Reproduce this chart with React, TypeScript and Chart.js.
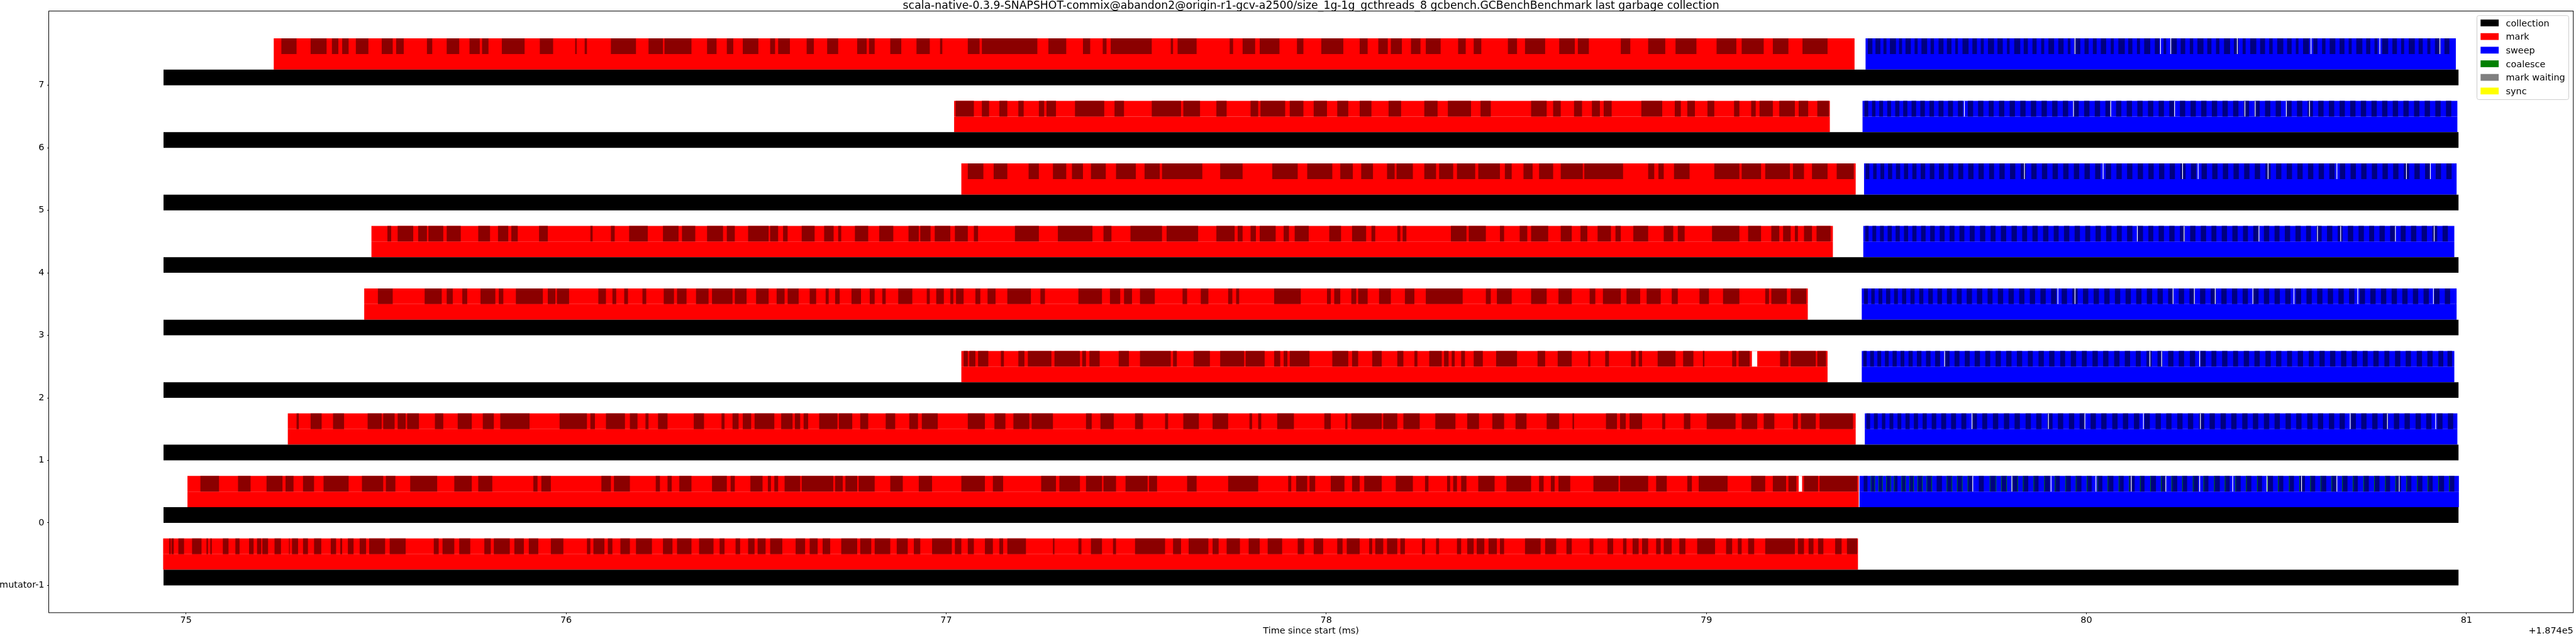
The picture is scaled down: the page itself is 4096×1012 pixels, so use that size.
import { useEffect, useRef } from "react";
import { Chart, registerables } from "chart.js";

Chart.register(...registerables);

const W = 4096;
const H = 1012;
const FONT = "'DejaVu Sans', 'Liberation Sans', sans-serif";

// ---------- text ----------
const TITLE =
  "scala-native-0.3.9-SNAPSHOT-commix@abandon2@origin-r1-gcv-a2500/size_1g-1g_gcthreads_8 gcbench.GCBenchBenchmark last garbage collection";
const X_LABEL = "Time since start (ms)";
const X_OFFSET_LABEL = "+1.874e5";
const X_TICKS = [75, 76, 77, 78, 79, 80, 81];
const Y_TICKS = [-1, 0, 1, 2, 3, 4, 5, 6, 7];
const Y_TICK_LABELS = ["mutator-1", "0", "1", "2", "3", "4", "5", "6", "7"];
const X_MIN = 74.639;
const X_MAX = 81.281;
const Y_MIN = -1.4375;
const Y_MAX = 8.1875;

// ---------- rows (thread index, bottom to top) ----------
const ROWS = [-1, 0, 1, 2, 3, 4, 5, 6, 7];

// collection phase per row [start, end] (ms, offset 1.874e5)
const COLLECTION_SPANS = [
  [74.941, 80.979], [74.941, 80.979], [74.941, 80.979], [74.941, 80.979], [74.941, 80.979],
  [74.941, 80.979], [74.941, 80.979], [74.941, 80.979], [74.941, 80.979],
];
// mark phase per row
const MARK_SPANS = [
  [74.94, 79.399], [75.004, 79.401], [75.268, 79.393], [77.04, 79.319], [75.469, 79.267],
  [75.488, 79.333], [77.04, 79.393], [77.021, 79.325], [75.231, 79.39],
];
// sweep phase per row (mutator has none)
const SWEEP_SPANS = [
  null, [79.403, 80.98], [79.417, 80.976], [79.409, 80.968], [79.409, 80.974],
  [79.413, 80.968], [79.415, 80.974], [79.411, 80.976], [79.419, 80.972],
];

// alternating mark batches (dark red) per row
const MARK_BATCHES_M1 = [[74.956,74.96],[74.962,74.968],[74.98,74.995],[75.016,75.041],[75.054,75.058],[75.064,75.068],[75.097,75.112],[75.13,75.141],[75.166,75.178],[75.187,75.198],[75.201,75.216],[75.233,75.25],[75.271,75.273],[75.279,75.295],[75.308,75.321],[75.337,75.356],[75.381,75.395],[75.406,75.411],[75.426,75.441],[75.457,75.474],[75.482,75.524],[75.536,75.578],[75.652,75.665],[75.675,75.706],[75.719,75.748],[75.785,75.802],[75.81,75.852],[75.864,75.889],[75.902,75.927],[75.96,75.993],[76.055,76.064],[76.072,76.101],[76.11,76.122],[76.143,76.168],[76.184,76.226],[76.255,76.28],[76.292,76.33],[76.35,76.388],[76.404,76.417],[76.446,76.458],[76.479,76.496],[76.504,76.525],[76.537,76.569],[76.604,76.629],[76.641,76.662],[76.675,76.695],[76.724,76.766],[76.774,76.803],[76.812,76.853],[76.87,76.899],[76.915,76.932],[76.963,77.015],[77.023,77.04],[77.057,77.073],[77.102,77.123],[77.14,77.15],[77.161,77.21],[77.281,77.285],[77.348,77.356],[77.381,77.41],[77.439,77.447],[77.497,77.576],[77.597,77.618],[77.638,77.69],[77.701,77.717],[77.738,77.773],[77.796,77.825],[77.846,77.884],[77.925,77.942],[77.967,77.992],[78.029,78.043],[78.054,78.088],[78.113,78.121],[78.129,78.15],[78.16,78.187],[78.195,78.207],[78.252,78.26],[78.289,78.297],[78.344,78.355],[78.371,78.388],[78.396,78.416],[78.427,78.449],[78.457,78.468],[78.523,78.564],[78.576,78.605],[78.632,78.646],[78.693,78.703],[78.74,78.755],[78.781,78.79],[78.806,78.822],[78.831,78.847],[78.868,78.88],[78.888,78.909],[78.929,78.945],[78.976,79.023],[79.052,79.068],[79.083,79.093],[79.11,79.126],[79.155,79.233],[79.241,79.257],[79.269,79.282],[79.294,79.308],[79.339,79.356],[79.37,79.397]];
const MARK_BATCHES_0 = [[75.038,75.087],[75.137,75.17],[75.212,75.254],[75.262,75.283],[75.308,75.337],[75.362,75.428],[75.463,75.519],[75.526,75.551],[75.59,75.661],[75.706,75.752],[75.769,75.806],[75.914,75.925],[75.935,75.96],[76.093,76.118],[76.126,76.168],[76.236,76.247],[76.267,76.278],[76.298,76.33],[76.384,76.423],[76.433,76.444],[76.485,76.517],[76.531,76.539],[76.548,76.558],[76.575,76.616],[76.62,76.703],[76.708,76.728],[76.735,76.766],[76.77,76.812],[76.853,76.886],[76.928,76.963],[77.04,77.102],[77.123,77.15],[77.25,77.289],[77.298,77.352],[77.368,77.41],[77.414,77.447],[77.472,77.53],[77.534,77.555],[77.634,77.659],[77.742,77.821],[77.9,77.908],[77.921,77.95],[77.956,77.971],[78.012,78.048],[78.068,78.088],[78.1,78.146],[78.183,78.228],[78.26,78.269],[78.318,78.326],[78.334,78.344],[78.355,78.369],[78.4,78.443],[78.474,78.539],[78.56,78.572],[78.591,78.601],[78.611,78.642],[78.703,78.769],[78.773,78.847],[78.868,78.896],[78.95,78.962],[78.98,79.056],[79.118,79.155],[79.175,79.21],[79.216,79.237],[79.257,79.294],[79.298,79.397]];
const MARK_BATCHES_1 = [[75.291,75.297],[75.328,75.357],[75.387,75.416],[75.478,75.515],[75.519,75.549],[75.557,75.578],[75.582,75.613],[75.655,75.677],[75.715,75.752],[75.781,75.81],[75.827,75.904],[75.983,76.055],[76.064,76.076],[76.105,76.155],[76.168,76.188],[76.209,76.217],[76.242,76.267],[76.336,76.363],[76.409,76.417],[76.438,76.454],[76.465,76.487],[76.496,76.548],[76.566,76.596],[76.602,76.616],[76.625,76.637],[76.666,76.714],[76.718,76.753],[76.774,76.795],[76.841,76.866],[76.903,76.926],[76.936,76.978],[77.057,77.102],[77.127,77.156],[77.177,77.219],[77.225,77.281],[77.368,77.383],[77.406,77.441],[77.497,77.518],[77.576,77.584],[77.624,77.665],[77.701,77.742],[77.798,77.805],[77.821,77.829],[77.871,77.915],[77.995,78.012],[78.05,78.056],[78.066,78.146],[78.15,78.187],[78.203,78.246],[78.287,78.34],[78.371,78.402],[78.437,78.468],[78.498,78.527],[78.58,78.613],[78.648,78.652],[78.736,78.765],[78.773,78.788],[78.798,78.831],[78.884,78.892],[78.941,78.958],[79.001,79.077],[79.093,79.134],[79.151,79.179],[79.228,79.241],[79.249,79.288],[79.298,79.386]];
const MARK_BATCHES_2 = [[77.046,77.057],[77.061,77.077],[77.084,77.111],[77.144,77.152],[77.19,77.206],[77.215,77.277],[77.285,77.352],[77.358,77.368],[77.377,77.404],[77.454,77.481],[77.51,77.591],[77.597,77.607],[77.651,77.694],[77.721,77.784],[77.788,77.838],[77.863,77.879],[77.888,77.898],[77.904,77.956],[78.016,78.058],[78.068,78.084],[78.121,78.146],[78.187,78.203],[78.232,78.24],[78.271,78.304],[78.31,78.322],[78.33,78.338],[78.355,78.365],[78.388,78.412],[78.447,78.502],[78.556,78.576],[78.609,78.646],[78.689,78.695],[78.734,78.744],[78.802,78.814],[78.822,78.831],[78.872,78.919],[78.939,78.966],[78.991,78.995],[79.068,79.079],[79.085,79.114],[79.194,79.216],[79.222,79.288],[79.292,79.315]];
const MARK_BATCHES_3 = [[75.505,75.544],[75.628,75.673],[75.686,75.702],[75.727,75.74],[75.775,75.814],[75.823,75.835],[75.868,75.939],[75.952,75.972],[75.976,76.008],[76.085,76.105],[76.122,76.132],[76.153,76.163],[76.201,76.211],[76.257,76.284],[76.292,76.317],[76.342,76.375],[76.384,76.438],[76.444,76.475],[76.5,76.533],[76.554,76.575],[76.583,76.612],[76.641,76.658],[76.683,76.691],[76.708,76.72],[76.751,76.776],[76.799,76.812],[76.832,76.841],[76.874,76.911],[76.949,76.957],[76.974,76.994],[77.011,77.019],[77.026,77.046],[77.077,77.09],[77.109,77.13],[77.161,77.223],[77.248,77.26],[77.348,77.41],[77.431,77.458],[77.468,77.489],[77.51,77.549],[77.622,77.634],[77.67,77.69],[77.742,77.753],[77.763,77.771],[77.863,77.933],[78.002,78.012],[78.021,78.037],[78.066,78.079],[78.084,78.109],[78.139,78.17],[78.207,78.232],[78.262,78.359],[78.42,78.433],[78.449,78.488],[78.539,78.58],[78.611,78.646],[78.693,78.708],[78.728,78.775],[78.79,78.826],[78.843,78.88],[78.909,78.925],[78.982,79.007],[79.044,79.087],[79.155,79.165],[79.171,79.212],[79.222,79.263]];
const MARK_BATCHES_4 = [[75.53,75.54],[75.557,75.598],[75.611,75.634],[75.638,75.677],[75.686,75.723],[75.769,75.8],[75.821,75.848],[75.856,75.873],[75.929,75.952],[76.064,76.07],[76.118,76.128],[76.166,76.215],[76.255,76.296],[76.305,76.34],[76.371,76.413],[76.423,76.444],[76.479,76.533],[76.537,76.558],[76.571,76.583],[76.62,76.654],[76.679,76.704],[76.716,76.724],[76.76,76.795],[76.824,76.861],[76.901,76.928],[76.932,76.959],[76.97,77.011],[77.023,77.057],[77.073,77.084],[77.181,77.244],[77.294,77.385],[77.414,77.435],[77.485,77.568],[77.58,77.663],[77.711,77.759],[77.767,77.78],[77.801,77.815],[77.825,77.867],[77.888,77.902],[77.917,77.954],[78.008,78.039],[78.068,78.105],[78.119,78.129],[78.187,78.195],[78.201,78.211],[78.328,78.369],[78.375,78.42],[78.457,78.468],[78.509,78.529],[78.539,78.584],[78.617,78.646],[78.669,78.687],[78.714,78.749],[78.761,78.775],[78.808,78.847],[78.888,78.913],[78.925,78.943],[79.015,79.087],[79.11,79.144],[79.171,79.192],[79.202,79.222],[79.233,79.241],[79.257,79.278],[79.29,79.327]];
const MARK_BATCHES_5 = [[77.057,77.098],[77.125,77.161],[77.217,77.244],[77.281,77.316],[77.331,77.36],[77.381,77.42],[77.447,77.499],[77.522,77.562],[77.568,77.674],[77.721,77.78],[77.858,77.925],[77.95,78.016],[78.037,78.07],[78.092,78.123],[78.16,78.18],[78.185,78.228],[78.258,78.289],[78.297,78.334],[78.344,78.392],[78.4,78.457],[78.47,78.488],[78.519,78.543],[78.56,78.597],[78.617,78.675],[78.679,78.781],[78.847,78.863],[78.874,78.888],[78.915,78.956],[79.021,79.087],[79.093,79.144],[79.155,79.22],[79.228,79.257],[79.278,79.319],[79.343,79.388]];
const MARK_BATCHES_6 = [[77.025,77.073],[77.094,77.113],[77.14,77.161],[77.19,77.204],[77.244,77.258],[77.264,77.289],[77.339,77.416],[77.443,77.468],[77.541,77.618],[77.624,77.668],[77.711,77.738],[77.801,77.821],[77.827,77.892],[77.904,77.94],[77.967,78.002],[78.029,78.058],[78.088,78.119],[78.164,78.197],[78.258,78.293],[78.32,78.381],[78.406,78.433],[78.539,78.58],[78.597,78.617],[78.652,78.673],[78.699,78.72],[78.73,78.751],[78.829,78.884],[78.917,78.933],[78.95,78.97],[79.003,79.021],[79.073,79.087],[79.118,79.13],[79.14,79.175],[79.192,79.233],[79.243,79.268],[79.292,79.323]];
const MARK_BATCHES_7 = [[75.251,75.291],[75.328,75.37],[75.384,75.401],[75.411,75.428],[75.447,75.48],[75.515,75.544],[75.553,75.573],[75.634,75.648],[75.686,75.719],[75.746,75.773],[75.779,75.796],[75.831,75.891],[75.931,75.966],[76.024,76.028],[76.049,76.055],[76.118,76.184],[76.217,76.255],[76.259,76.33],[76.371,76.396],[76.423,76.44],[76.465,76.506],[76.537,76.55],[76.558,76.589],[76.633,76.652],[76.687,76.716],[76.766,76.791],[76.797,76.812],[76.853,76.882],[76.922,76.957],[76.984,76.99],[77.057,77.088],[77.094,77.24],[77.269,77.316],[77.36,77.379],[77.412,77.422],[77.433,77.541],[77.591,77.597],[77.609,77.659],[77.746,77.755],[77.78,77.813],[77.825,77.877],[77.923,77.94],[77.987,78.045],[78.088,78.109],[78.137,78.162],[78.17,78.199],[78.223,78.248],[78.262,78.301],[78.347,78.367],[78.388,78.408],[78.478,78.502],[78.523,78.576],[78.613,78.654],[78.662,78.691],[78.775,78.8],[78.847,78.892],[78.919,78.974],[79.027,79.079],[79.093,79.151],[79.175,79.216],[79.253,79.319]];
const MARK_BATCHES = [
  MARK_BATCHES_M1, MARK_BATCHES_0, MARK_BATCHES_1, MARK_BATCHES_2, MARK_BATCHES_3,
  MARK_BATCHES_4, MARK_BATCHES_5, MARK_BATCHES_6, MARK_BATCHES_7,
];

// alternating sweep batches (navy) per row
const SWEEP_BATCHES_0 = [[79.414,79.424],[79.434,79.443],[79.454,79.463],[79.474,79.484],[79.494,79.503],[79.514,79.524],[79.535,79.545],[79.557,79.568],[79.581,79.593],[79.606,79.62],[79.633,79.646],[79.66,79.673],[79.688,79.701],[79.717,79.73],[79.747,79.761],[79.777,79.79],[79.804,79.819],[79.833,79.847],[79.861,79.874],[79.889,79.904],[79.917,79.93],[79.945,79.959],[79.972,79.987],[80.001,80.014],[80.029,80.042],[80.056,80.071],[80.085,80.098],[80.112,80.127],[80.141,80.153],[80.168,80.183],[80.196,80.209],[80.224,80.239],[80.252,80.265],[80.28,80.294],[80.308,80.321],[80.336,80.351],[80.364,80.377],[80.392,80.406],[80.42,80.434],[80.449,80.462],[80.476,80.491],[80.504,80.518],[80.533,80.546],[80.56,80.575],[80.589,80.602],[80.616,80.631],[80.645,80.658],[80.673,80.687],[80.701,80.714],[80.729,80.743],[80.757,80.771],[80.786,80.799],[80.813,80.828],[80.842,80.855],[80.87,80.884],[80.898,80.911],[80.926,80.941],[80.954,80.968]];
const SWEEP_BATCHES_1 = [[79.421,79.431],[79.441,79.451],[79.462,79.471],[79.482,79.492],[79.503,79.513],[79.524,79.535],[79.546,79.557],[79.569,79.58],[79.593,79.605],[79.618,79.631],[79.644,79.657],[79.671,79.684],[79.698,79.712],[79.726,79.739],[79.754,79.768],[79.783,79.797],[79.811,79.825],[79.84,79.854],[79.868,79.882],[79.897,79.911],[79.925,79.939],[79.954,79.968],[79.982,79.996],[80.011,80.025],[80.039,80.053],[80.068,80.082],[80.096,80.11],[80.125,80.139],[80.153,80.167],[80.182,80.196],[80.21,80.224],[80.239,80.253],[80.267,80.281],[80.296,80.31],[80.324,80.338],[80.353,80.367],[80.381,80.395],[80.41,80.424],[80.438,80.452],[80.467,80.481],[80.495,80.509],[80.524,80.538],[80.552,80.566],[80.581,80.595],[80.609,80.623],[80.638,80.652],[80.666,80.68],[80.695,80.709],[80.723,80.737],[80.752,80.766],[80.78,80.794],[80.809,80.823],[80.837,80.851],[80.866,80.88],[80.894,80.908],[80.923,80.937],[80.951,80.965]];
const SWEEP_BATCHES_2 = [[79.413,79.422],[79.431,79.441],[79.45,79.46],[79.47,79.48],[79.49,79.501],[79.511,79.521],[79.532,79.543],[79.554,79.566],[79.578,79.59],[79.602,79.615],[79.627,79.64],[79.653,79.666],[79.68,79.693],[79.706,79.72],[79.734,79.747],[79.761,79.775],[79.789,79.803],[79.817,79.831],[79.846,79.859],[79.874,79.888],[79.902,79.916],[79.931,79.944],[79.959,79.973],[79.988,80.001],[80.016,80.03],[80.044,80.058],[80.073,80.087],[80.101,80.115],[80.13,80.143],[80.158,80.172],[80.187,80.2],[80.215,80.229],[80.243,80.257],[80.272,80.286],[80.3,80.314],[80.329,80.342],[80.357,80.371],[80.386,80.399],[80.414,80.428],[80.442,80.456],[80.471,80.485],[80.499,80.513],[80.528,80.541],[80.556,80.57],[80.585,80.598],[80.613,80.627],[80.641,80.655],[80.67,80.684],[80.698,80.712],[80.727,80.74],[80.755,80.769],[80.784,80.797],[80.812,80.826],[80.84,80.854],[80.869,80.883],[80.897,80.911],[80.926,80.939],[80.95,80.962]];
const SWEEP_BATCHES_3 = [[79.415,79.425],[79.434,79.443],[79.453,79.463],[79.473,79.484],[79.494,79.504],[79.515,79.526],[79.537,79.548],[79.56,79.571],[79.584,79.596],[79.608,79.62],[79.633,79.646],[79.659,79.672],[79.685,79.699],[79.712,79.726],[79.74,79.753],[79.767,79.781],[79.795,79.809],[79.823,79.837],[79.851,79.865],[79.879,79.893],[79.907,79.921],[79.935,79.949],[79.963,79.977],[79.991,80.005],[80.019,80.033],[80.047,80.061],[80.075,80.089],[80.103,80.117],[80.131,80.145],[80.159,80.173],[80.187,80.201],[80.215,80.229],[80.243,80.257],[80.271,80.285],[80.299,80.313],[80.327,80.341],[80.355,80.369],[80.383,80.397],[80.411,80.425],[80.439,80.453],[80.467,80.481],[80.495,80.509],[80.523,80.537],[80.551,80.565],[80.579,80.593],[80.607,80.621],[80.635,80.649],[80.663,80.677],[80.691,80.705],[80.719,80.733],[80.747,80.761],[80.775,80.789],[80.803,80.817],[80.831,80.845],[80.859,80.873],[80.887,80.901],[80.915,80.929],[80.943,80.957]];
const SWEEP_BATCHES_4 = [[79.418,79.427],[79.437,79.447],[79.457,79.467],[79.477,79.488],[79.498,79.509],[79.52,79.531],[79.542,79.553],[79.565,79.577],[79.589,79.601],[79.614,79.627],[79.64,79.653],[79.666,79.679],[79.693,79.706],[79.72,79.734],[79.748,79.761],[79.775,79.789],[79.803,79.817],[79.831,79.844],[79.858,79.872],[79.886,79.9],[79.914,79.927],[79.941,79.955],[79.969,79.983],[79.997,80.01],[80.024,80.038],[80.052,80.066],[80.08,80.093],[80.107,80.121],[80.135,80.149],[80.163,80.176],[80.19,80.204],[80.218,80.232],[80.246,80.259],[80.273,80.287],[80.301,80.315],[80.329,80.342],[80.356,80.37],[80.384,80.398],[80.412,80.425],[80.439,80.453],[80.467,80.481],[80.495,80.508],[80.522,80.536],[80.55,80.564],[80.578,80.591],[80.605,80.619],[80.633,80.647],[80.661,80.674],[80.688,80.702],[80.716,80.73],[80.744,80.757],[80.771,80.785],[80.799,80.813],[80.827,80.84],[80.854,80.868],[80.882,80.896],[80.91,80.923],[80.937,80.951]];
const SWEEP_BATCHES_5 = [[79.419,79.429],[79.439,79.448],[79.458,79.468],[79.478,79.489],[79.499,79.51],[79.52,79.531],[79.542,79.553],[79.564,79.576],[79.588,79.6],[79.612,79.625],[79.637,79.65],[79.663,79.676],[79.689,79.703],[79.716,79.73],[79.744,79.757],[79.771,79.785],[79.799,79.813],[79.827,79.841],[79.855,79.869],[79.883,79.897],[79.911,79.925],[79.939,79.953],[79.967,79.981],[79.995,80.009],[80.023,80.037],[80.051,80.065],[80.079,80.093],[80.107,80.121],[80.135,80.149],[80.163,80.177],[80.191,80.205],[80.219,80.233],[80.247,80.261],[80.275,80.289],[80.303,80.317],[80.331,80.345],[80.359,80.373],[80.387,80.401],[80.415,80.429],[80.443,80.457],[80.471,80.485],[80.499,80.513],[80.527,80.541],[80.555,80.569],[80.583,80.597],[80.611,80.625],[80.639,80.653],[80.667,80.681],[80.695,80.709],[80.723,80.737],[80.751,80.765],[80.779,80.793],[80.807,80.821],[80.835,80.849],[80.863,80.877],[80.891,80.905],[80.919,80.933],[80.947,80.961]];
const SWEEP_BATCHES_6 = [[79.416,79.426],[79.436,79.445],[79.455,79.465],[79.476,79.486],[79.497,79.508],[79.518,79.529],[79.54,79.552],[79.563,79.575],[79.587,79.599],[79.611,79.624],[79.636,79.649],[79.662,79.675],[79.688,79.702],[79.715,79.729],[79.743,79.756],[79.77,79.784],[79.798,79.812],[79.826,79.84],[79.854,79.868],[79.882,79.896],[79.91,79.924],[79.938,79.952],[79.966,79.98],[79.994,80.008],[80.022,80.036],[80.05,80.064],[80.078,80.092],[80.106,80.12],[80.134,80.148],[80.162,80.176],[80.19,80.204],[80.218,80.232],[80.246,80.26],[80.274,80.288],[80.302,80.316],[80.33,80.344],[80.358,80.372],[80.386,80.4],[80.414,80.428],[80.442,80.456],[80.47,80.484],[80.498,80.512],[80.526,80.54],[80.554,80.568],[80.582,80.596],[80.61,80.624],[80.638,80.652],[80.666,80.68],[80.694,80.708],[80.722,80.736],[80.75,80.764],[80.778,80.792],[80.806,80.82],[80.834,80.848],[80.862,80.876],[80.89,80.904],[80.918,80.932],[80.946,80.96]];
const SWEEP_BATCHES_7 = [[79.425,79.437],[79.445,79.458],[79.466,79.474],[79.483,79.499],[79.507,79.515],[79.524,79.538],[79.548,79.556],[79.566,79.581],[79.59,79.599],[79.611,79.624],[79.633,79.645],[79.655,79.662],[79.674,79.69],[79.7,79.712],[79.722,79.73],[79.741,79.757],[79.766,79.78],[79.791,79.798],[79.81,79.826],[79.835,79.846],[79.858,79.869],[79.881,79.889],[79.9,79.915],[79.926,79.94],[79.951,79.958],[79.968,79.984],[79.995,80.006],[80.017,80.027],[80.038,80.052],[80.064,80.072],[80.084,80.101],[80.11,80.121],[80.133,80.141],[80.152,80.168],[80.18,80.192],[80.203,80.21],[80.221,80.238],[80.248,80.26],[80.272,80.281],[80.292,80.308],[80.318,80.329],[80.341,80.35],[80.362,80.378],[80.388,80.4],[80.411,80.419],[80.431,80.447],[80.457,80.47],[80.481,80.49],[80.502,80.518],[80.528,80.54],[80.551,80.558],[80.57,80.586],[80.597,80.608],[80.62,80.629],[80.64,80.655],[80.666,80.679],[80.69,80.698],[80.71,80.726],[80.736,80.747],[80.758,80.766],[80.778,80.794],[80.805,80.817],[80.828,80.836],[80.848,80.864],[80.874,80.885],[80.897,80.905],[80.917,80.932],[80.942,80.955]];
const SWEEP_BATCHES = [
  [], SWEEP_BATCHES_0, SWEEP_BATCHES_1, SWEEP_BATCHES_2, SWEEP_BATCHES_3,
  SWEEP_BATCHES_4, SWEEP_BATCHES_5, SWEEP_BATCHES_6, SWEEP_BATCHES_7,
];

// idle gaps between batches (unfilled) in the batch lane, per row
const BATCH_GAPS = [
  [],
  [[79.243,79.252],[79.7,79.702],[79.803,79.805],[79.906,79.908],[80.024,80.026],[80.117,80.119],[80.208,80.21],[80.297,80.299],[80.384,80.386],[80.474,80.476],[80.565,80.567],[80.658,80.66],[80.822,80.824]],
  [[79.698,79.7],[79.899,79.901],[79.995,79.997],[80.149,80.151],[80.299,80.301],[80.693,80.695],[80.791,80.793],[80.918,80.92]],
  [[79.12,79.134],[79.626,79.628],[80.166,80.168],[80.197,80.199],[80.297,80.299]],
  [[79.924,79.926],[79.969,79.971],[80.227,80.229],[80.283,80.285],[80.338,80.34],[80.437,80.439],[80.545,80.547],[80.713,80.715],[80.912,80.914]],
  [[80.133,80.135],[80.256,80.258],[80.453,80.455],[80.607,80.609],[80.668,80.67],[80.812,80.814],[80.914,80.916]],
  [[79.836,79.838],[80.043,80.045],[80.252,80.254],[80.293,80.295],[80.477,80.479],[80.658,80.66],[80.841,80.843],[80.904,80.906]],
  [[79.678,79.68],[79.965,79.967],[80.063,80.065],[80.231,80.233],[80.416,80.418],[80.443,80.445],[80.525,80.527],[80.586,80.588]],
  [[79.969,79.971],[80.194,80.196],[80.221,80.223],[80.396,80.398],[80.59,80.592],[80.771,80.773],[80.929,80.931]],
];

// coalesce events (thin) on thread 0
const COALESCE_ROW = 0;
const COALESCE_EVENTS = [[79.4325,79.434],[79.4425,79.444],[79.453,79.4545],[79.4625,79.464],[79.4735,79.475],[79.4845,79.486],[79.4935,79.495],[79.5135,79.515],[79.5235,79.525],[79.5345,79.536],[79.5445,79.546],[79.5555,79.557],[79.5675,79.569],[79.5795,79.581],[79.5925,79.594],[79.6325,79.634],[79.6455,79.647],[79.6595,79.661],[79.6725,79.674],[79.6875,79.689],[79.7455,79.747],[79.7615,79.763],[79.7755,79.777],[79.7895,79.791],[79.8035,79.805],[79.8185,79.82],[79.833,79.8345],[79.861,79.8625],[79.889,79.8905],[79.917,79.9185],[79.945,79.9465],[79.972,79.9735],[80.001,80.0025],[80.029,80.0305],[80.056,80.0575],[80.085,80.0865],[80.112,80.1135],[80.141,80.1425],[80.168,80.1695],[80.196,80.1975],[80.224,80.2255],[80.252,80.2535],[80.28,80.2815],[80.308,80.3095],[80.336,80.3375],[80.364,80.3655],[80.392,80.3935],[80.42,80.4215],[80.449,80.4505],[80.476,80.4775],[80.504,80.5055],[80.533,80.5345],[80.56,80.5615],[80.589,80.5905],[80.616,80.6175],[80.645,80.6465],[80.673,80.6745],[80.701,80.7025],[80.729,80.7305],[80.757,80.7585],[80.786,80.7875],[80.813,80.8145],[80.842,80.8435],[80.87,80.8715],[80.898,80.8995],[80.926,80.9275],[80.954,80.9555]];

// legend
const LEGEND_LABELS = ["collection", "mark", "sweep", "coalesce", "mark waiting", "sync"];
const COLORS: Record<string, string> = {
  collection: "#000000",
  mark: "#ff0000",
  sweep: "#0000ff",
  coalesce: "#008000",
  "mark waiting": "#808080",
  sync: "#ffff00",
  markBatch: "#8b0000",
  sweepBatch: "#000080",
  gap: "#ffffff",
};

// ---------- layout (px) ----------
const AREA_LEFT = 77.5;
const AREA_RIGHT = 4091.7;
const AREA_TOP = 17.6;
const AREA_BOTTOM = 974.9;
const BAND = 0.25;
const BAR_PX = (BAND * (AREA_BOTTOM - AREA_TOP)) / (Y_MAX - Y_MIN);

type Pt = { x: number[]; y: number };

function bandPoints(spans: (number[] | null)[], offset: number): Pt[] {
  const out: Pt[] = [];
  spans.forEach((s, i) => {
    if (s) out.push({ x: s, y: ROWS[i] + offset });
  });
  return out;
}
function batchPoints(lists: number[][][], offset: number): Pt[] {
  const out: Pt[] = [];
  lists.forEach((list, i) => list.forEach((s) => out.push({ x: s, y: ROWS[i] + offset })));
  return out;
}

function ds(label: string, color: string, data: Pt[], order: number) {
  return {
    label,
    data,
    backgroundColor: color,
    borderWidth: 0,
    borderSkipped: false,
    inflateAmount: 0,
    barThickness: BAR_PX,
    grouped: false,
    order,
  };
}

const decorPlugin = {
  id: "decor",
  afterDraw(chart: any) {
    const { ctx, chartArea: a } = chart;
    ctx.save();
    // frame
    ctx.strokeStyle = "#000";
    ctx.lineWidth = 1;
    ctx.strokeRect(a.left, a.top, a.right - a.left, a.bottom - a.top);
    // title
    const cx = (a.left + a.right) / 2;
    ctx.fillStyle = "#000";
    ctx.font = `17.3px ${FONT}`;
    ctx.textAlign = "center";
    ctx.textBaseline = "alphabetic";
    ctx.fillText(TITLE, cx, 14);
    // x label and offset
    ctx.font = `14.4px ${FONT}`;
    ctx.fillText(X_LABEL, cx, 1008);
    ctx.textAlign = "right";
    ctx.fillText(X_OFFSET_LABEL, a.right, 1007.5);
    // legend
    const fs = 14.4;
    ctx.font = `${fs}px ${FONT}`;
    let maxW = 0;
    LEGEND_LABELS.forEach((l) => (maxW = Math.max(maxW, ctx.measureText(l).width)));
    const bx1 = a.right - 0.5 * fs;
    const by0 = a.top + 0.5 * fs;
    const bw = 0.4 * fs + 2 * fs + 0.8 * fs + maxW + 0.4 * fs;
    const bh = 133.6;
    const bx0 = bx1 - bw;
    const r = 0.2 * fs;
    ctx.beginPath();
    ctx.moveTo(bx0 + r, by0);
    ctx.lineTo(bx0 + bw - r, by0);
    ctx.arcTo(bx0 + bw, by0, bx0 + bw, by0 + r, r);
    ctx.lineTo(bx0 + bw, by0 + bh - r);
    ctx.arcTo(bx0 + bw, by0 + bh, bx0 + bw - r, by0 + bh, r);
    ctx.lineTo(bx0 + r, by0 + bh);
    ctx.arcTo(bx0, by0 + bh, bx0, by0 + bh - r, r);
    ctx.lineTo(bx0, by0 + r);
    ctx.arcTo(bx0, by0, bx0 + r, by0, r);
    ctx.closePath();
    ctx.fillStyle = "rgba(255,255,255,0.8)";
    ctx.fill();
    ctx.strokeStyle = "#cccccc";
    ctx.lineWidth = 1;
    ctx.stroke();
    const datasets = chart.data.datasets;
    LEGEND_LABELS.forEach((l, i) => {
      const d = datasets.find((x: any) => x.label === l);
      const color = d ? d.backgroundColor : "#000";
      const cy = by0 + 11.7 + i * 21.66;
      ctx.fillStyle = color;
      ctx.fillRect(bx0 + 0.4 * fs, cy - 5.4, 2 * fs, 10.8);
      ctx.fillStyle = "#000";
      ctx.textAlign = "left";
      ctx.textBaseline = "alphabetic";
      ctx.fillText(l, bx0 + 0.4 * fs + 2.8 * fs, cy + 5.2);
    });
    ctx.restore();
  },
};

export default function App() {
  const ref = useRef<HTMLCanvasElement>(null);
  useEffect(() => {
    const canvas = ref.current;
    if (!canvas) return;
    const coalesce = COALESCE_EVENTS.map((s) => ({ x: s, y: COALESCE_ROW + 0.625 }));
    const datasets = [
      ds("gaps", COLORS.gap, batchPoints(BATCH_GAPS, 0.625), 0),
      ds("coalesce", COLORS.coalesce, coalesce, 1),
      ds("mark batches", COLORS.markBatch, batchPoints(MARK_BATCHES, 0.625), 2),
      ds("sweep batches", COLORS.sweepBatch, batchPoints(SWEEP_BATCHES, 0.625), 2),
      ds("collection", COLORS.collection, bandPoints(COLLECTION_SPANS, 0.125), 3),
      ds("mark", COLORS.mark, [...bandPoints(MARK_SPANS, 0.375), ...bandPoints(MARK_SPANS, 0.625)], 3),
      ds("sweep", COLORS.sweep, [...bandPoints(SWEEP_SPANS, 0.375), ...bandPoints(SWEEP_SPANS, 0.625)], 3),
      ds("mark waiting", COLORS["mark waiting"], [], 3),
      ds("sync", COLORS.sync, [], 3),
    ];
    const tickFont = { family: FONT, size: 14.4 };
    const chart = new Chart(canvas, {
      type: "bar",
      data: { datasets: datasets as any },
      options: {
        indexAxis: "y",
        responsive: false,
        animation: false,
        devicePixelRatio: 1,
        layout: { padding: { top: AREA_TOP, right: W - AREA_RIGHT, left: 0, bottom: 0 } },
        plugins: { legend: { display: false }, tooltip: { enabled: false }, title: { display: false } },
        scales: {
          x: {
            type: "linear",
            min: X_MIN,
            max: X_MAX,
            offset: false,
            beginAtZero: false,
            afterBuildTicks: (s: any) => {
              s.ticks = X_TICKS.map((v) => ({ value: v }));
            },
            afterFit: (s: any) => {
              s.height = H - AREA_BOTTOM;
            },
            ticks: {
              font: tickFont,
              color: "#000",
              padding: 1.5,
              maxRotation: 0,
              autoSkip: false,
              callback: (v: any) => String(v),
            },
            grid: { drawOnChartArea: false, drawTicks: true, tickLength: 2.5, color: "#000", offset: false },
            border: { display: false },
          },
          y: {
            type: "linear",
            min: Y_MIN,
            max: Y_MAX,
            offset: false,
            afterBuildTicks: (s: any) => {
              s.ticks = Y_TICKS.map((v) => ({ value: v }));
            },
            afterFit: (s: any) => {
              s.width = AREA_LEFT;
            },
            ticks: {
              font: tickFont,
              color: "#000",
              padding: 4.5,
              autoSkip: false,
              callback: (v: any) => Y_TICK_LABELS[Y_TICKS.indexOf(Number(v))],
            },
            grid: { drawOnChartArea: false, drawTicks: true, tickLength: 2.5, color: "#000", offset: false },
            border: { display: false },
          },
        },
      },
      plugins: [decorPlugin],
    });
    return () => chart.destroy();
  }, []);
  return (
    <div style={{ position: "fixed", left: 0, top: 0, width: W, height: H, background: "#fff" }}>
      <canvas ref={ref} width={W} height={H} style={{ width: W, height: H, display: "block" }} />
    </div>
  );
}
